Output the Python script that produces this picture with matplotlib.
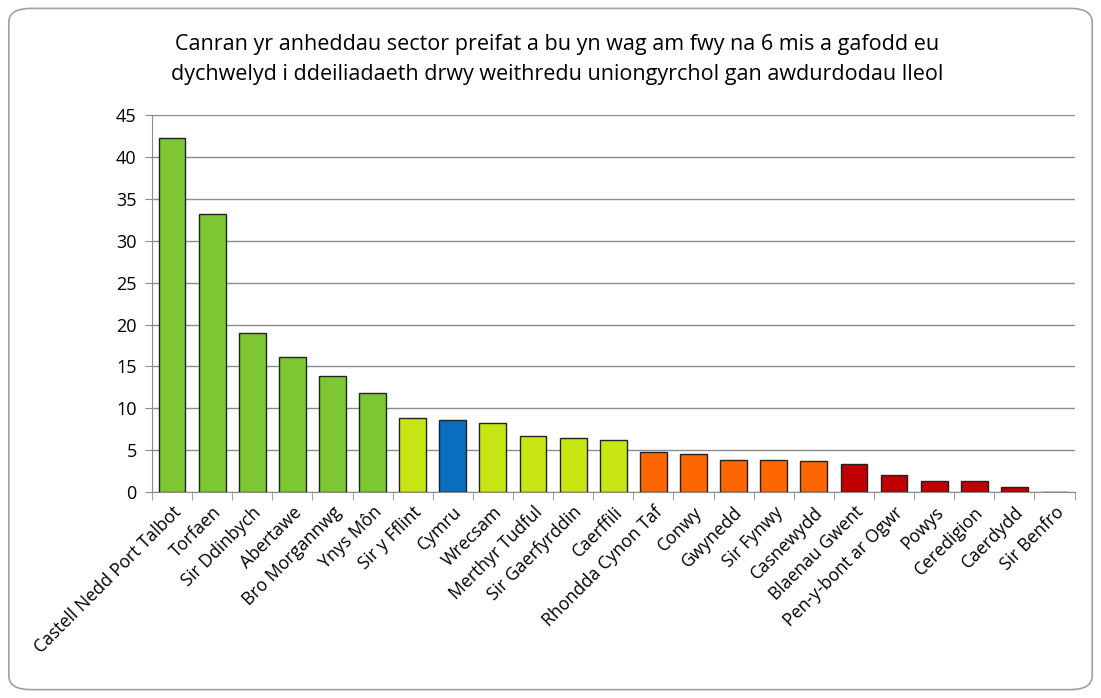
import matplotlib.pyplot as plt
from matplotlib.patches import FancyBboxPatch
import numpy as np

areas = ["Castell Nedd Port Talbot", "Torfaen", "Sir Ddinbych", "Abertawe",
         "Bro Morgannwg", "Ynys Môn", "Sir y Fflint", "Cymru", "Wrecsam",
         "Merthyr Tudful", "Sir Gaerfyrddin", "Caerffili", "Rhondda Cynon Taf",
         "Conwy", "Gwynedd", "Sir Fynwy", "Casnewydd", "Blaenau Gwent",
         "Pen-y-bont ar Ogwr", "Powys", "Ceredigion", "Caerdydd", "Sir Benfro"]
values = [42.3, 33.2, 19.0, 16.1, 13.9, 11.8, 8.9, 8.6, 8.3, 6.7, 6.4, 6.2,
          4.8, 4.6, 3.8, 3.8, 3.7, 3.4, 2.1, 1.3, 1.3, 0.6, 0.0]
groups = ["g"] * 6 + ["y", "b"] + ["y"] * 4 + ["o"] * 5 + ["r"] * 6

palette = {"g": "#7dc832", "y": "#c8e614", "b": "#0a6ebe", "o": "#ff6600", "r": "#c00000"}

plt.rcParams['font.family'] = ['Open Sans', 'DejaVu Sans']

fig = plt.figure(figsize=(11.01, 6.98), dpi=100)
box = FancyBboxPatch((0.008, 0.012), 0.984, 0.976, boxstyle="round,pad=0,rounding_size=0.02",
                     transform=fig.transFigure, facecolor="white", edgecolor="#a0a0a0",
                     linewidth=1.2, zorder=-5)
fig.patches.append(box)

ax = fig.add_axes([0.138, 0.295, 0.838, 0.54])
ax.set_zorder(2)
ax.set_facecolor("none")
x = np.arange(len(areas))
ax.bar(x, values, width=0.67, color=[palette[g] for g in groups],
       edgecolor="#222222", linewidth=1.0, zorder=3)

ax.set_xlim(-0.5, len(areas) - 0.5)
ax.set_ylim(0, 45)
ax.set_yticks(range(0, 46, 5))
ax.yaxis.grid(True, color="#8c8c8c", linewidth=1.0, zorder=0)
ax.tick_params(axis="y", labelsize=13, length=5, color="#8c8c8c", pad=6)
ax.set_xticks(x)
ax.set_xticklabels(areas, rotation=45, ha="right", rotation_mode="anchor", fontsize=12.7)
ax.tick_params(axis="x", length=0, pad=8)
# separators between categories
ax.set_xticks(np.arange(-0.5, len(areas), 1), minor=True)
ax.tick_params(axis="x", which="minor", length=6, color="#8c8c8c")
for s in ["top", "right"]:
    ax.spines[s].set_visible(False)
ax.spines["left"].set_color("#8c8c8c")
ax.spines["bottom"].set_color("#8c8c8c")

fig.text(0.506, 0.915, "Canran yr anheddau sector preifat a bu yn wag am fwy na 6 mis a gafodd eu\n"
         "dychwelyd i ddeiliadaeth drwy weithredu uniongyrchol gan awdurdodau lleol",
         ha="center", va="center", fontsize=15.5, linespacing=1.6, zorder=3)

fig.savefig("out.png", dpi=100)
